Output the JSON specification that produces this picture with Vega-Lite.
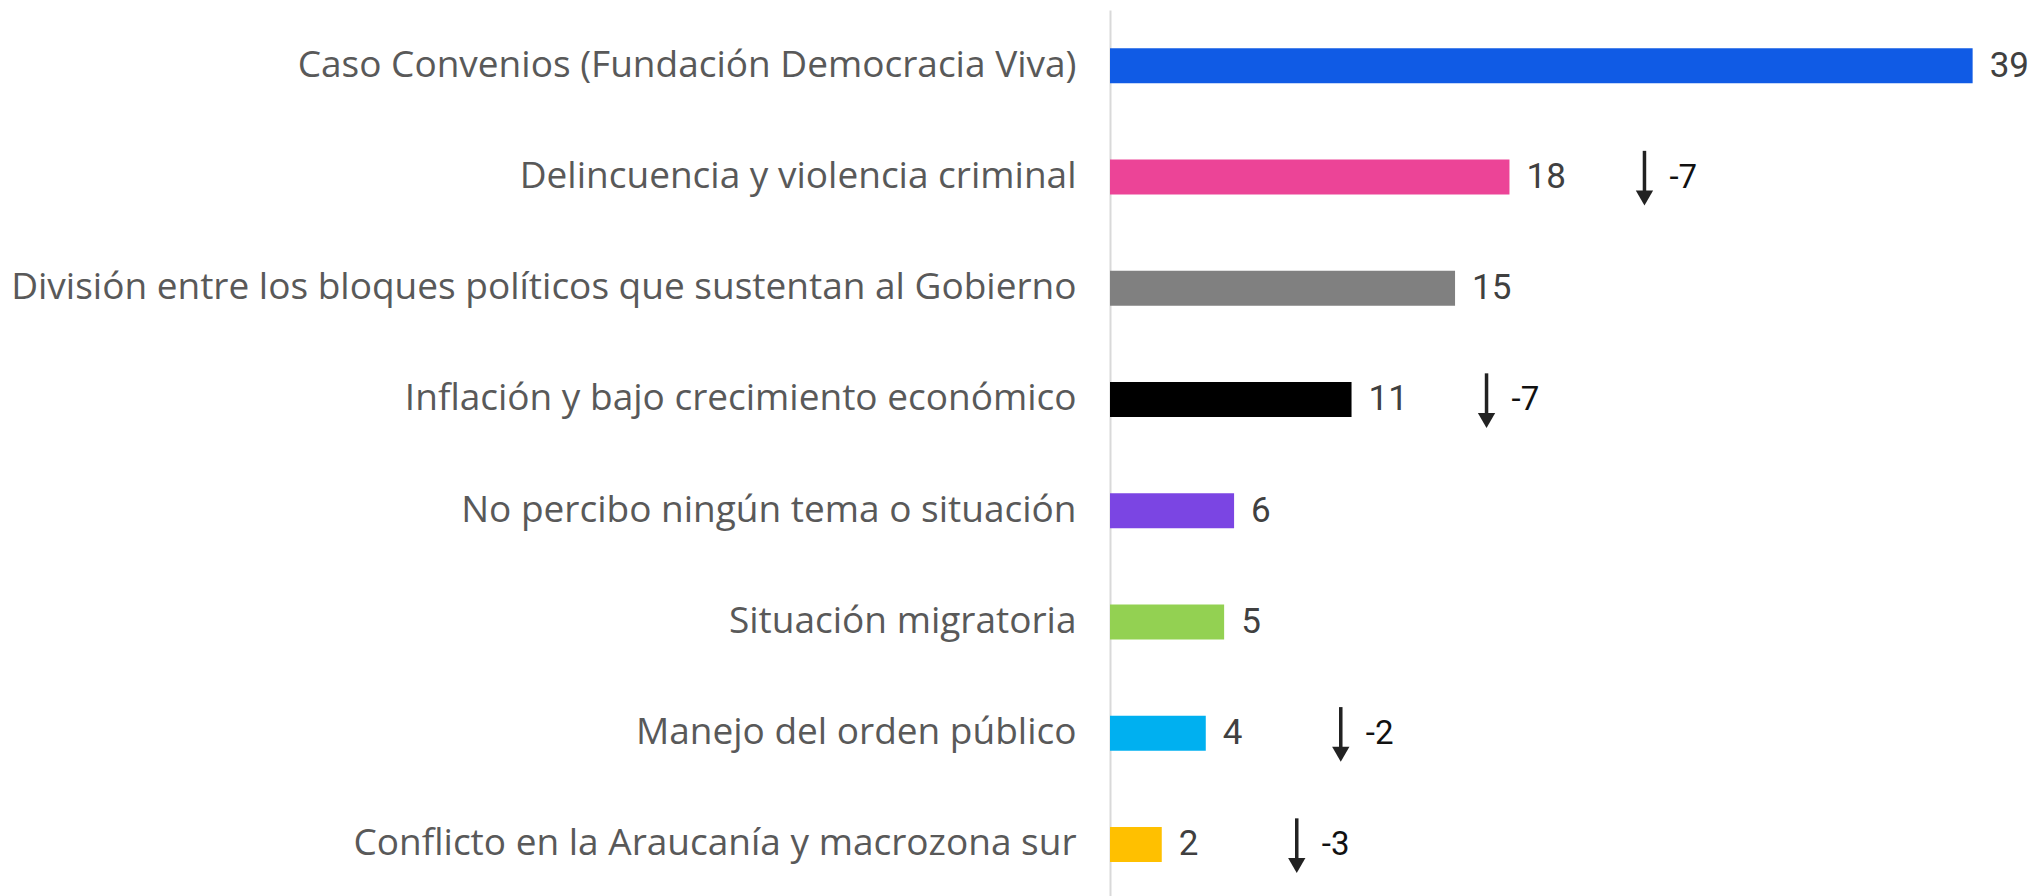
{
  "$schema": "https://vega.github.io/schema/vega-lite/v6.json",
  "width": 927,
  "height": 890,
  "autosize": {"type": "none"},
  "padding": {"left": 1110, "top": 10, "right": 0, "bottom": 0},
  "background": "white",
  "config": {"view": {"stroke": null}, "font": "Roboto"},
  "data": {
    "values": [
      {"tema": "Caso Convenios (Fundación Democracia Viva)", "pct": 39.0, "label": 39, "delta": null},
      {"tema": "Delincuencia y violencia criminal", "pct": 18.06, "label": 18, "delta": -7},
      {"tema": "División entre los bloques políticos que sustentan al Gobierno", "pct": 15.6, "label": 15, "delta": null},
      {"tema": "Inflación y bajo crecimiento económico", "pct": 10.92, "label": 11, "delta": -7},
      {"tema": "No percibo ningún tema o situación", "pct": 5.61, "label": 6, "delta": null},
      {"tema": "Situación migratoria", "pct": 5.16, "label": 5, "delta": null},
      {"tema": "Manejo del orden público", "pct": 4.33, "label": 4, "delta": -2},
      {"tema": "Conflicto en la Araucanía y macrozona sur", "pct": 2.34, "label": 2, "delta": -3}
    ]
  },
  "encoding": {
    "y": {
      "field": "tema",
      "type": "nominal",
      "sort": null,
      "scale": {"paddingInner": 0, "paddingOuter": 0},
      "axis": {
        "title": null,
        "ticks": false,
        "grid": false,
        "domain": true,
        "domainColor": "#d9d9d9",
        "domainWidth": 2,
        "labelFontSize": 37,
        "labelColor": "#595959",
        "labelPadding": 34,
        "labelLimit": 0,
        "labelFont": "Open Sans"
      }
    },
    "x": {
      "field": "pct",
      "type": "quantitative",
      "scale": {"domain": [0, 41.91], "nice": false, "zero": true},
      "axis": null
    }
  },
  "layer": [
    {
      "mark": {"type": "bar", "height": 35},
      "encoding": {
        "color": {
          "field": "tema",
          "type": "nominal",
          "legend": null,
          "scale": {
            "domain": [
              "Caso Convenios (Fundación Democracia Viva)",
              "Delincuencia y violencia criminal",
              "División entre los bloques políticos que sustentan al Gobierno",
              "Inflación y bajo crecimiento económico",
              "No percibo ningún tema o situación",
              "Situación migratoria",
              "Manejo del orden público",
              "Conflicto en la Araucanía y macrozona sur"
            ],
            "range": ["#105be5", "#ec4497", "#808080", "#000000", "#7b45e3", "#93d152", "#00b0f0", "#ffc000"]
          }
        }
      }
    },
    {
      "mark": {"type": "text", "align": "left", "baseline": "middle", "dx": 17, "fontSize": 35, "color": "#404040", "font": "Roboto"},
      "encoding": {"text": {"field": "label", "type": "nominal"}}
    },
    {
      "transform": [{"filter": "datum.delta != null"}],
      "mark": {"type": "rule", "xOffset": 135, "strokeWidth": 3.5, "color": "#222222"},
      "encoding": {
        "y": {"field": "tema", "type": "nominal", "sort": null, "bandPosition": 0.266},
        "y2": {"field": "tema", "bandPosition": 0.645}
      }
    },
    {
      "transform": [{"filter": "datum.delta != null"}],
      "mark": {"type": "point", "shape": "triangle-down", "filled": true, "size": 300, "xOffset": 135, "yOffset": 21, "color": "#222222", "opacity": 1},
      "encoding": {}
    },
    {
      "transform": [{"filter": "datum.delta != null"}],
      "mark": {"type": "text", "align": "left", "baseline": "middle", "xOffset": 160, "dy": 1, "fontSize": 33, "color": "#111111", "font": "Roboto"},
      "encoding": {"text": {"field": "delta", "type": "nominal"}}
    }
  ]
}
